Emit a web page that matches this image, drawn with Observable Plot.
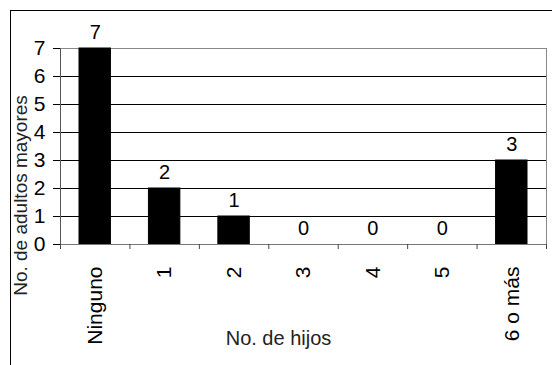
<!DOCTYPE html>
<html>
<head>
<meta charset="utf-8">
<script src="https://cdn.jsdelivr.net/npm/d3@7"></script>
<script src="https://cdn.jsdelivr.net/npm/@observablehq/plot@0.6"></script>
<style>
  html, body { margin: 0; padding: 0; background: #fff; overflow: hidden; width: 552px; height: 365px; }
  #wrap { position: relative; width: 552px; height: 365px; }
  #border { position: absolute; left: 10px; top: 10px; width: 600px; height: 400px; border: 1px solid #000; pointer-events: none; }
  svg { font-family: "Liberation Sans", Arial, sans-serif; }
</style>
</head>
<body>
<div id="wrap"><div id="border"></div></div>
<script>
const categories = ["Ninguno", "1", "2", "3", "4", "5", "6 o más"];
const values = [7, 2, 1, 0, 0, 0, 3];
const yTicks = [0, 1, 2, 3, 4, 5, 6, 7];
const xTitle = "No. de hijos";
const yTitle = "No. de adultos mayores";

const data = categories.map((c, i) => ({cat: c, idx: i, value: values[i]}));
const boundaries = d3.range(0, categories.length + 1);

const chart = Plot.plot({
  width: 552,
  height: 365,
  marginLeft: 60,
  marginRight: 6,
  marginTop: 48,
  marginBottom: 121,
  style: {background: "transparent", fontFamily: "Liberation Sans, Arial, sans-serif", overflow: "visible"},
  x: {type: "linear", domain: [0, categories.length], axis: null},
  y: {type: "linear", domain: [0, 7], axis: null},
  marks: [
    Plot.frame({stroke: "#888"}),
    Plot.ruleY(yTicks.filter(t => t > 0 && t < 7), {stroke: "#000", strokeWidth: 1}),
    Plot.rectY(data, {x: "idx", interval: 1, y: "value", fill: "#000", stroke: "#000", insetLeft: 19, insetRight: 19}),
    Plot.ruleY([0], {stroke: "#777"}),
    Plot.ruleX([0], {stroke: "#555"}),
    Plot.axisY({ticks: yTicks, tickFormat: "d", tickSize: 7, tickPadding: 8, fontSize: 21, label: null, stroke: "#000", color: "#000"}),
    Plot.axisX({ticks: boundaries, tickSize: 5, tickFormat: () => "", label: null, stroke: "#444"}),
    Plot.text(data, {x: d => d.idx + 0.5, y: () => 0, text: "cat", rotate: -90, textAnchor: "end", dy: 22, fontSize: 21, fill: "#000"}),
    Plot.text(data, {x: d => d.idx + 0.5, y: "value", text: d => String(d.value), lineAnchor: "bottom", dy: -10, fontSize: 20, fill: "#000"}),
    Plot.text([xTitle], {frameAnchor: "bottom", textAnchor: "middle", dx: -25, dy: 100, fontSize: 20, fill: "#222"}),
    Plot.text([yTitle], {frameAnchor: "left", textAnchor: "middle", dx: -40, dy: 49, rotate: -90, fontSize: 19, fill: "#222"})
  ]
});
document.getElementById("wrap").prepend(chart);
</script>
</body>
</html>
